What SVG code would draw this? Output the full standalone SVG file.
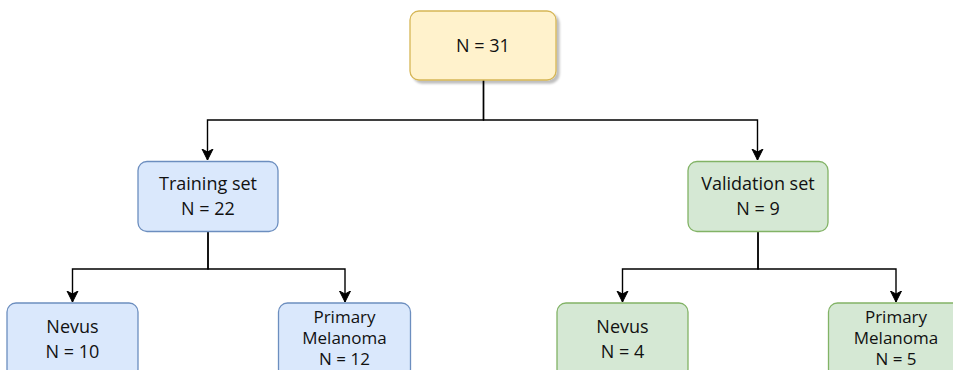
<svg xmlns="http://www.w3.org/2000/svg" width="953" height="370" viewBox="0 0 953 370">
  <defs>
    <marker id="classic" markerUnits="userSpaceOnUse" markerWidth="12" markerHeight="14" refX="11" refY="7" orient="auto" viewBox="0 0 12 14">
      <path d="M0,1.5 L11,7 L0,12.5 L3,7 Z" fill="#000" stroke="#000" stroke-width="1"/>
    </marker>
    <filter id="shadow" x="-10%" y="-10%" width="130%" height="130%">
      <feDropShadow dx="3" dy="3" stdDeviation="0.8" flood-color="#000" flood-opacity="0.25"/>
    </filter>
  </defs>
  <style>
    .yellow { fill: #fff2cc; stroke: #d6b656; stroke-width: 1.3; }
    .blue { fill: #dae8fc; stroke: #6c8ebf; stroke-width: 1.3; }
    .green { fill: #d5e8d4; stroke: #82b366; stroke-width: 1.3; }
    .label { font-family: "Open Sans", "Noto Sans", "Liberation Sans", sans-serif; font-size: 18px; fill: #111; text-anchor: middle; }
    .small { font-size: 17px; }
    .edge { fill: none; stroke: #000; stroke-width: 1.4; marker-end: url(#classic); }
  </style>

  <g id="connectors">
    <path class="edge" d="M483.5,80 V120 H207.5 V160"/>
    <path class="edge" d="M483.5,80 V120 H757.5 V160"/>
    <path class="edge" d="M208,232 V269 H72.5 V302"/>
    <path class="edge" d="M208,232 V269 H345 V302"/>
    <path class="edge" d="M758,232 V269 H622.5 V302"/>
    <path class="edge" d="M758,232 V269 H896 V302"/>
  </g>

  <g id="total">
    <rect class="yellow" x="410" y="11" width="146" height="69" rx="9" filter="url(#shadow)"/>
    <text class="label" x="483" y="52">N = 31</text>
  </g>

  <g id="training">
    <rect class="blue" x="138" y="161.5" width="140" height="70" rx="9"/>
    <text class="label" x="208" y="190">Training set</text>
    <text class="label" x="208" y="215">N = 22</text>
  </g>

  <g id="validation">
    <rect class="green" x="688" y="161.5" width="140" height="70" rx="9"/>
    <text class="label" x="758" y="190">Validation set</text>
    <text class="label" x="758" y="215">N = 9</text>
  </g>

  <g id="train-nevus">
    <rect class="blue" x="7" y="303" width="131" height="75" rx="9"/>
    <text class="label" x="72.5" y="333">Nevus</text>
    <text class="label" x="72.5" y="358">N = 10</text>
  </g>

  <g id="train-melanoma">
    <rect class="blue" x="278.5" y="303" width="132" height="75" rx="9"/>
    <text class="label small" x="344.5" y="323">Primary</text>
    <text class="label small" x="344.5" y="344">Melanoma</text>
    <text class="label small" x="344.5" y="365">N = 12</text>
  </g>

  <g id="valid-nevus">
    <rect class="green" x="557" y="303" width="131" height="75" rx="9"/>
    <text class="label" x="622.5" y="333">Nevus</text>
    <text class="label" x="622.5" y="358">N = 4</text>
  </g>

  <g id="valid-melanoma">
    <rect class="green" x="828.5" y="303" width="135" height="75" rx="9"/>
    <text class="label small" x="896" y="323">Primary</text>
    <text class="label small" x="896" y="344">Melanoma</text>
    <text class="label small" x="896" y="365">N = 5</text>
  </g>
</svg>
